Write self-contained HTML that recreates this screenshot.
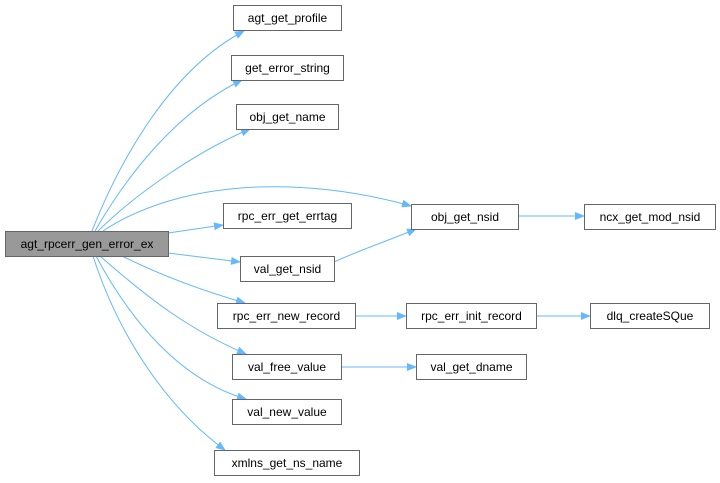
<!DOCTYPE html>
<html><head><style>body{margin:0;background:#fff}svg{display:block}</style></head><body>
<svg width="720" height="483" viewBox="0 0 720 483" xmlns="http://www.w3.org/2000/svg" font-family="Liberation Sans, Arial, sans-serif" font-size="12">
<defs><marker id="a" markerWidth="10" markerHeight="8" refX="9" refY="4" orient="auto" markerUnits="userSpaceOnUse"><path d="M0,0 L10,4 L0,8 z" fill="#63b8ff"/></marker></defs>
<g fill="none" stroke="#63b8ff" stroke-width="1" marker-end="url(#a)">
<path d="M92,231 C120,160 170,70 244,31"/>
<path d="M95,231 C130,170 180,110 242,80"/>
<path d="M98,231 C140,190 200,150 250,129"/>
<path d="M103,231 C180,180 300,175 411,206"/>
<path d="M168,233 L223,225"/>
<path d="M168,253 L240,262"/>
<path d="M122,256 C160,275 200,290 245,303"/>
<path d="M100,256 C150,300 190,330 246,354"/>
<path d="M96,256 C130,320 180,380 246,399"/>
<path d="M93,256 C120,340 170,410 225,450"/>
<path d="M334,262 C360,250 390,240 416,229"/>
<path d="M518,216 L584,216"/>
<path d="M355,316 L406,316"/>
<path d="M536,316 L590,316"/>
<path d="M341,367 L416,367"/>
</g>
<g stroke="#666" stroke-width="1" fill="#fff">
<rect x="5.5" y="231.5" width="163" height="25" fill="#999"/>
<rect x="233.5" y="5.5" width="108" height="25"/>
<rect x="231.5" y="55.5" width="112" height="25"/>
<rect x="236.5" y="104.5" width="102" height="25"/>
<rect x="411.5" y="204.5" width="107" height="25"/>
<rect x="584.5" y="204.5" width="131" height="25"/>
<rect x="223.5" y="203.5" width="128" height="25"/>
<rect x="240.5" y="256.5" width="94" height="25"/>
<rect x="217.5" y="303.5" width="138" height="25"/>
<rect x="406.5" y="303.5" width="130" height="25"/>
<rect x="590.5" y="303.5" width="119" height="25"/>
<rect x="232.5" y="354.5" width="109" height="25"/>
<rect x="416.5" y="354.5" width="110" height="25"/>
<rect x="232.5" y="399.5" width="109" height="25"/>
<rect x="214.5" y="450.5" width="145" height="25"/>
</g>
<g fill="#000" text-anchor="middle">
<text x="87" y="248">agt_rpcerr_gen_error_ex</text>
<text x="287.5" y="22">agt_get_profile</text>
<text x="287.5" y="72">get_error_string</text>
<text x="287.5" y="121">obj_get_name</text>
<text x="465" y="221">obj_get_nsid</text>
<text x="650" y="221">ncx_get_mod_nsid</text>
<text x="287.5" y="220">rpc_err_get_errtag</text>
<text x="287.5" y="273">val_get_nsid</text>
<text x="286.5" y="320">rpc_err_new_record</text>
<text x="471.5" y="320">rpc_err_init_record</text>
<text x="650" y="320">dlq_createSQue</text>
<text x="287" y="371">val_free_value</text>
<text x="471.5" y="371">val_get_dname</text>
<text x="287" y="416">val_new_value</text>
<text x="287" y="467">xmlns_get_ns_name</text>
</g>
</svg>
</body></html>
